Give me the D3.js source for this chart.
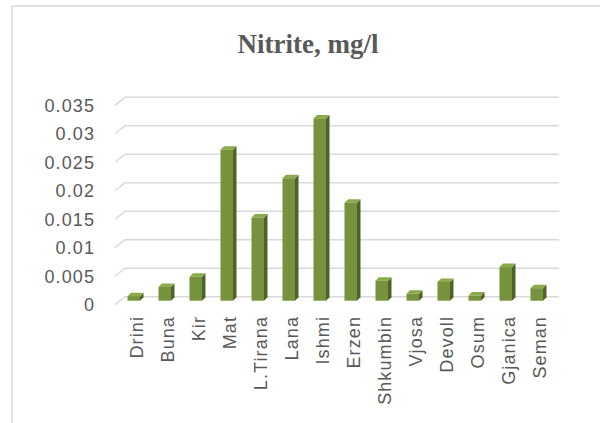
<!DOCTYPE html>
<html>
<head>
<meta charset="utf-8">
<script src="https://cdn.jsdelivr.net/npm/d3@7"></script>
<style>
html,body{margin:0;padding:0;background:#fff;}
svg{display:block;}
</style>
</head>
<body>
<svg id="chart" width="600" height="423"></svg>
<script>
const categories = ["Drini","Buna","Kir","Mat","L.Tirana","Lana","Ishmi","Erzen","Shkumbin","Vjosa","Devoll","Osum","Gjanica","Seman"];
const values = [0.0008,0.0024,0.0042,0.0265,0.0146,0.0215,0.032,0.0172,0.0035,0.0012,0.0033,0.0009,0.0059,0.0022];
const yTicks = [0,0.005,0.01,0.015,0.02,0.025,0.03,0.035];
const yTickLabels = ["0","0.005","0.01","0.015","0.02","0.025","0.03","0.035"];

const svg = d3.select("#chart");
const W = 600, H = 423;

// border
svg.append("line").attr("x1",12).attr("y1",6).attr("x2",W).attr("y2",6).attr("stroke","#d9d9d9").attr("stroke-width",1.5);
svg.append("line").attr("x1",12).attr("y1",6).attr("x2",12).attr("y2",H).attr("stroke","#d9d9d9").attr("stroke-width",1.5);

// title
svg.append("text").attr("x",308).attr("y",53).attr("text-anchor","middle")
  .attr("font-family","'Liberation Serif','Times New Roman',serif").attr("font-weight","bold")
  .attr("font-size",27).attr("fill","#595959").text("Nitrite, mg/l");

// back plane scale
const y = d3.scaleLinear().domain([0,0.035]).range([296.7,97.3]);
const x = d3.scaleBand().domain(categories).range([125,559]).paddingInner(0).paddingOuter(0);
const depth = {dx:10, dy:-8}; // front -> back offset

// gridlines
const grid = svg.append("g");
yTicks.forEach(t => {
  const yb = y(t);
  grid.append("path")
    .attr("d", `M${125-depth.dx},${yb-depth.dy} L125,${yb} L559,${yb}`)
    .attr("fill","none").attr("stroke","#d9d9d9").attr("stroke-width",1.5);
});

// y labels
svg.append("g").selectAll("text").data(yTicks).join("text")
  .attr("x",95).attr("y",d => y(d)-depth.dy)
  .attr("dy","0.35em").attr("text-anchor","end")
  .attr("font-family","'Liberation Sans',Arial,sans-serif").attr("font-size",18)
  .attr("letter-spacing",1.1)
  .attr("fill","#595959").text((d,i) => yTickLabels[i]);

// bars (mid depth)
const mx = -depth.dx/2, my = -depth.dy/2; // shift from back to middle
const sd = 3.5; // bar depth
const bars = svg.append("g");
categories.forEach((c,i) => {
  const cx = x(c) + x.bandwidth()/2 + mx;
  const x0 = cx - 8, x1 = cx + 4.5;
  const yt = y(values[i]) + my, yb = y(0) + my;
  bars.append("path").attr("d",`M${x1},${yb} L${x1+sd},${yb-sd} L${x1+sd},${yt-sd} L${x1},${yt} Z`).attr("fill","#4f6228");
  bars.append("path").attr("d",`M${x0},${yt} L${x0+sd},${yt-sd} L${x1+sd},${yt-sd} L${x1},${yt} Z`).attr("fill","#8aab4a");
  bars.append("rect").attr("x",x0).attr("y",yt).attr("width",x1-x0).attr("height",yb-yt).attr("fill","#76923c");
});

// x labels
svg.append("g").selectAll("text").data(categories).join("text")
  .attr("transform", d => `translate(${x(d)+x.bandwidth()/2 + mx + 1},316) rotate(-90)`)
  .attr("dy","0.35em").attr("text-anchor","end")
  .attr("font-family","'Liberation Sans',Arial,sans-serif").attr("font-size",18)
  .attr("letter-spacing",1.1)
  .attr("fill","#595959").text(d => d);
</script>
</body>
</html>
